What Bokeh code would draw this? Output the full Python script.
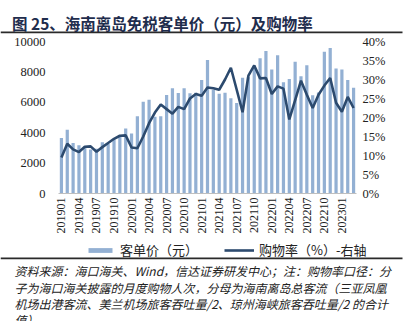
import math
from bokeh.plotting import figure
from bokeh.models import (Range1d, LinearAxis, FixedTicker, PrintfTickFormatter,
                          Legend, LegendItem, Label, ColumnDataSource)
from bokeh.embed import file_html
from bokeh.resources import INLINE

months = ["201901", "201902", "201903", "201904", "201905", "201906",
          "201907", "201908", "201909", "201910", "201911", "201912",
          "202001", "202002", "202003", "202004", "202005", "202006",
          "202007", "202008", "202009", "202010", "202011", "202012",
          "202101", "202102", "202103", "202104", "202105", "202106",
          "202107", "202108", "202109", "202110", "202111", "202112",
          "202201", "202202", "202203", "202204", "202205", "202206",
          "202207", "202208", "202209", "202210", "202211", "202212",
          "202301", "202302", "202303"]

tick_labels = ["201901", "201904", "201907", "201910", "202001", "202004",
               "202007", "202010", "202101", "202104", "202107", "202110",
               "202201", "202204", "202207", "202210", "202301"]

price = [3650, 4200, 3320, 3170, 3100, 2900, 2950, 3370, 3250, 3550,
         3750, 4280, 3940, 5080, 6030, 6170, 5050, 5080, 6480, 6920,
         6620, 6920, 6590, 6630, 7460, 8780, 6820, 6570, 6630, 6260,
         5960, 7610, 7650, 8400, 8890, 9380, 8160, 9100, 7320, 7530,
         8660, 7720, 8440, 6460, 6650, 9320, 9580, 8230, 8160, 7460,
         6950]

rate = [9.5, 13.1, 11.6, 10.9, 12.3, 12.4, 11.0, 12.2, 13.3, 14.4,
        15.2, 15.3, 12.1, 11.9, 15.0, 18.5, 21.3, 23.4, 22.2, 21.0,
        22.8, 22.2, 25.0, 26.2, 25.7, 27.9, 27.7, 27.3, 30.0, 33.1,
        27.3, 21.4, 31.0, 33.7, 30.3, 30.4, 26.2, 28.2, 27.6, 19.5,
        24.6, 29.7, 26.0, 22.5, 26.0, 28.4, 30.4, 23.9, 21.5, 25.4,
        22.5]

left_ticks = [0, 2000, 4000, 6000, 8000, 10000]
right_ticks = [0, 5, 10, 15, 20, 25, 30, 35, 40]

title_text = "图 25、海南离岛免税客单价（元）及购物率"
legend_labels = ["客单价（元）", "购物率（%）-右轴"]
note_lines = ["资料来源：海口海关、Wind，信达证券研发中心；注：购物率口径：分",
              "子为海口海关披露的月度购物人次，分母为海南离岛总客流（三亚凤凰",
              "机场出港客流、美兰机场旅客吞吐量/2、琼州海峡旅客吞吐量/2 的合计",
              "值）"]

idx = list(range(len(months)))
tick_idx = [months.index(t) for t in tick_labels]

BAR = "#93B0D3"
LINE = "#2C4A6E"
SERIF = "Liberation Serif"
CJK = "Noto Sans CJK SC"

# ---- layout geometry (canvas pixels, y from top) ----
W, H = 413, 321
PL, PR, PT, PB = 58, 356, 41, 193     # plot area
YMAX, PMAX = 10000, 40
n = len(months)
ux = (PR - PL) / n
uy = YMAX / (PB - PT)
up = PMAX / (PB - PT)
x_start = -0.5 - PL / ux
x_end = n - 0.5 + (W - PR) / ux


def cx(px):   # canvas x -> data x
    return x_start + px / ux


def cy(py):   # canvas y -> data y (left scale)
    return (PB - py) * uy


p = figure(width=W, height=H, output_backend="svg", toolbar_location=None,
           x_range=Range1d(x_start, x_end),
           y_range=Range1d(cy(H), cy(0)),
           min_border=0, x_axis_location=None, y_axis_location=None)
p.outline_line_color = None
p.grid.visible = False
p.background_fill_color = "white"
p.border_fill_color = "white"
p.extra_y_ranges = {"pct": Range1d(-(H - PB) * up, PB * up)}

bars = p.vbar(x=idx, top=price, width=0.55, color=BAR, line_color=None)
line = p.line(x=idx, y=rate, y_range_name="pct", line_color=LINE, line_width=2.6)

# x axis (fixed at value 0 inside the full-canvas frame)
xa = LinearAxis(ticker=FixedTicker(ticks=tick_idx), fixed_location=0,
                bounds=(-0.5, n - 0.5))
xa.major_label_overrides = {i: months[i] for i in tick_idx}
xa.major_label_orientation = math.pi / 2
xa.major_tick_line_color = None
xa.minor_tick_line_color = None
xa.major_tick_out = 0
xa.major_tick_in = 0
xa.axis_line_color = "#BFBFBF"
xa.axis_line_width = 1
xa.major_label_standoff = 4
xa.major_label_text_font = SERIF
xa.major_label_text_font_size = "12px"
xa.major_label_text_color = "#222222"
p.add_layout(xa, "below")

ya = LinearAxis(ticker=FixedTicker(ticks=left_ticks), fixed_location=-0.5)
ya.axis_line_color = None
ya.major_tick_line_color = None
ya.minor_tick_line_color = None
ya.major_tick_out = 0
ya.major_tick_in = 0
ya.major_label_standoff = 13
ya.major_label_text_font = SERIF
ya.major_label_text_font_size = "12.5px"
ya.major_label_text_color = "#222222"
p.add_layout(ya, "left")

ra = LinearAxis(y_range_name="pct", ticker=FixedTicker(ticks=right_ticks),
                formatter=PrintfTickFormatter(format="%d%%"), fixed_location=n - 0.5)
ra.axis_line_color = None
ra.major_tick_line_color = None
ra.minor_tick_line_color = None
ra.major_tick_out = 0
ra.major_tick_in = 0
ra.major_label_standoff = 6
ra.major_label_text_font = SERIF
ra.major_label_text_font_size = "12.5px"
ra.major_label_text_color = "#222222"
p.add_layout(ra, "right")

# legend (screen units: from frame bottom-left, y up)
legend = Legend(items=[LegendItem(label=legend_labels[0], renderers=[bars]),
                       LegendItem(label=legend_labels[1], renderers=[line])],
                orientation="horizontal", location=(85, H - 259),
                glyph_width=30, glyph_height=6, label_standoff=5, spacing=26,
                padding=0, margin=0, border_line_color=None,
                background_fill_alpha=0, label_text_font=CJK,
                label_text_font_size="13px", label_text_color="#222222",
                label_height=6)
p.add_layout(legend)

# title and horizontal rules
p.add_layout(Label(x=11.5, y=H - 22.5, x_units="screen", y_units="screen",
                   text=title_text, text_font=CJK, text_font_size="15.5px",
                   text_font_style="bold", text_color="#1F2D4D",
                   text_align="left", text_baseline="middle"))

rule_y = [32, 258]
rules = ColumnDataSource(dict(
    left=[cx(0) for _ in rule_y], right=[cx(402) for _ in rule_y],
    top=[cy(y - 1.0) for y in rule_y], bottom=[cy(y + 0.8) for y in rule_y]))
p.quad(left="left", right="right", top="top", bottom="bottom", source=rules,
       fill_color="#2A2A2A", line_color=None)

for txt, yc in zip(note_lines, [270, 286.5, 303, 318.5]):
    p.add_layout(Label(x=14, y=H - yc, x_units="screen", y_units="screen",
                       text=txt, text_font=CJK, text_font_size="12px",
                       text_font_style="italic", text_color="#222222",
                       text_align="left", text_baseline="middle"))

open("out.html", "w").write(file_html(p, INLINE))
